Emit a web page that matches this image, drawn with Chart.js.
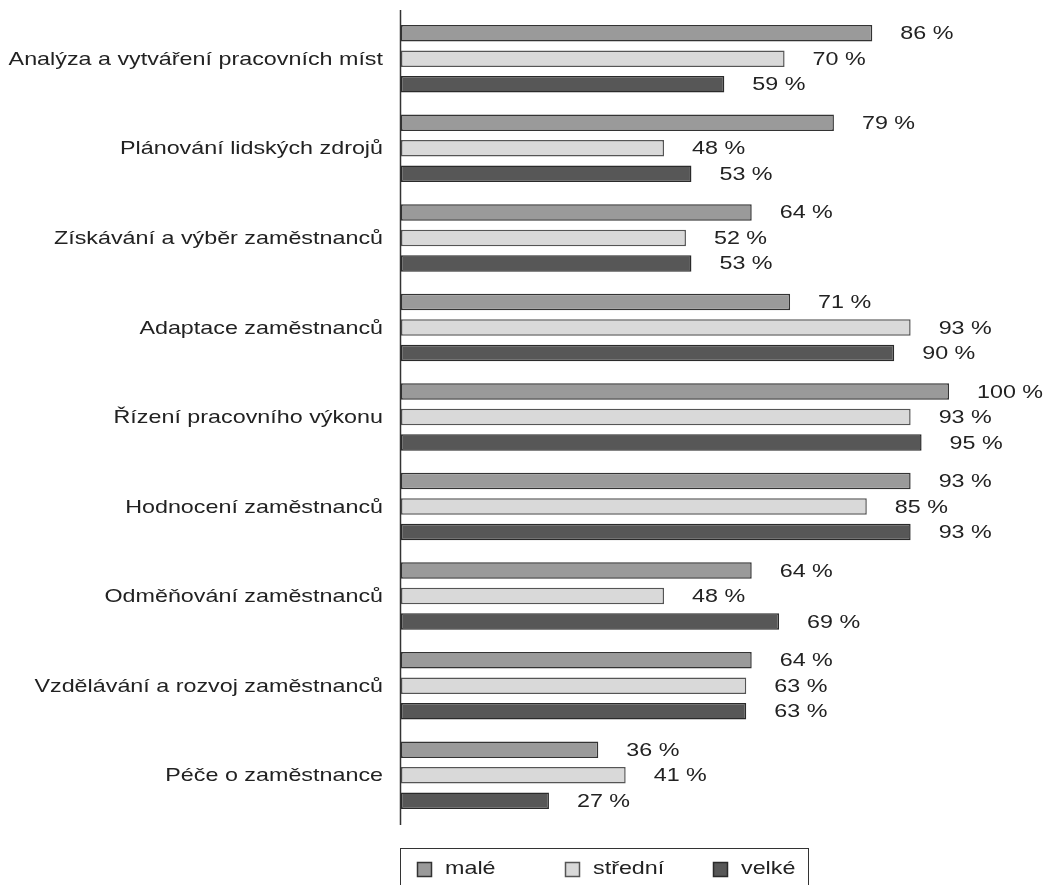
<!DOCTYPE html>
<html lang="cs">
<head>
<meta charset="utf-8">
<script src="https://cdn.jsdelivr.net/npm/chart.js@4/dist/chart.umd.min.js"></script>
<style>
  html, body { margin: 0; padding: 0; background: #fff; }
  #wrap { width: 1049px; height: 885px; position: relative; }
</style>
</head>
<body>
<div id="wrap"><canvas id="c" width="1049" height="885"></canvas></div>
<script>
// HR activities by company size (share of companies, %)
const categories = [
  'Analýza a vytváření pracovních míst',
  'Plánování lidských zdrojů',
  'Získávání a výběr zaměstnanců',
  'Adaptace zaměstnanců',
  'Řízení pracovního výkonu',
  'Hodnocení zaměstnanců',
  'Odměňování zaměstnanců',
  'Vzdělávání a rozvoj zaměstnanců',
  'Péče o zaměstnance'
];
const seriesNames = ['malé', 'střední', 'velké'];
const male    = [86, 79, 64, 71, 100, 93, 64, 64, 36];
const stredni = [70, 48, 52, 93, 93, 85, 48, 63, 41];
const velke   = [59, 53, 53, 90, 95, 93, 69, 63, 27];

const fills   = ['#9a9a9a', '#d9d9d9', '#575757'];
const borders = ['#333333', '#555555', '#2a2a2a'];
const FONT = '18.5px "Liberation Sans", Arial, sans-serif';
const TEXT = '#222222';
const STRETCH = 1.26; // wide lettering used throughout the chart

// draw text with a horizontal stretch; x is the anchor for the given alignment
function wideText(ctx, text, x, y, align) {
  ctx.save();
  ctx.font = FONT;
  ctx.fillStyle = TEXT;
  ctx.textBaseline = 'middle';
  ctx.textAlign = align;
  ctx.translate(x, y);
  ctx.scale(STRETCH, 1);
  ctx.fillText(text, 0, 0);
  ctx.restore();
}

// vertical category axis line, reaching a little past the plot area
const axisLine = {
  id: 'axisLine',
  afterDatasetsDraw(chart) {
    const ctx = chart.ctx;
    const x = chart.chartArea.left - 0.5;
    ctx.save();
    ctx.strokeStyle = '#333333';
    ctx.lineWidth = 1.5;
    ctx.beginPath();
    ctx.moveTo(x, chart.chartArea.top - 4);
    ctx.lineTo(x, chart.chartArea.bottom + 5);
    ctx.stroke();
    ctx.restore();
  }
};

// category names left of the axis, values "NN %" right of each bar
const textLabels = {
  id: 'textLabels',
  afterDatasetsDraw(chart) {
    const ctx = chart.ctx;
    const yScale = chart.scales.y;
    chart.data.labels.forEach((lab, j) => {
      wideText(ctx, lab, yScale.right - 18, yScale.getPixelForValue(j) + 1, 'right');
    });
    chart.data.datasets.forEach((ds, i) => {
      chart.getDatasetMeta(i).data.forEach((bar, j) => {
        wideText(ctx, ds.data[j] + ' %', bar.x + 28, bar.y + 1, 'left');
      });
    });
  }
};

// boxed legend below the plot
const boxLegend = {
  id: 'boxLegend',
  afterDraw(chart) {
    const ctx = chart.ctx;
    const left = chart.chartArea.left;
    const top = 848;
    ctx.save();
    ctx.strokeStyle = '#333333';
    ctx.lineWidth = 1;
    ctx.strokeRect(left - 0.5, top + 0.5, 408, 60);
    const xs = [left + 16, left + 164, left + 312];
    chart.data.datasets.forEach((ds, i) => {
      const x = xs[i];
      ctx.fillStyle = ds.backgroundColor;
      ctx.fillRect(x, 862, 15, 15);
      ctx.strokeStyle = ds.borderColor;
      ctx.lineWidth = 1.5;
      ctx.strokeRect(x + 0.5, 862.5, 14, 14);
      wideText(ctx, ds.label, x + 28, 869, 'left');
    });
    ctx.restore();
  }
};

const series = [male, stredni, velke];
new Chart(document.getElementById('c'), {
  type: 'bar',
  data: {
    labels: categories,
    datasets: series.map((d, i) => ({
      label: seriesNames[i],
      data: d,
      backgroundColor: fills[i],
      borderColor: borders[i],
      borderWidth: 1.5,
      borderSkipped: false,
      barPercentage: 0.647,
      categoryPercentage: 0.854
    }))
  },
  options: {
    indexAxis: 'y',
    responsive: false,
    animation: false,
    devicePixelRatio: 1,
    layout: { padding: { top: 14, right: 100, bottom: 65, left: 0 } },
    plugins: { legend: { display: false }, tooltip: { enabled: false } },
    scales: {
      x: {
        min: 0, max: 100,
        display: false
      },
      y: {
        grid: { display: false, drawTicks: false },
        border: { display: false },
        ticks: { display: false },
        afterFit(scale) {
          scale.width = 401;
          scale.paddingTop = 0;
          scale.paddingBottom = 0;
        }
      }
    }
  },
  plugins: [axisLine, textLabels, boxLegend]
});
</script>
</body>
</html>
